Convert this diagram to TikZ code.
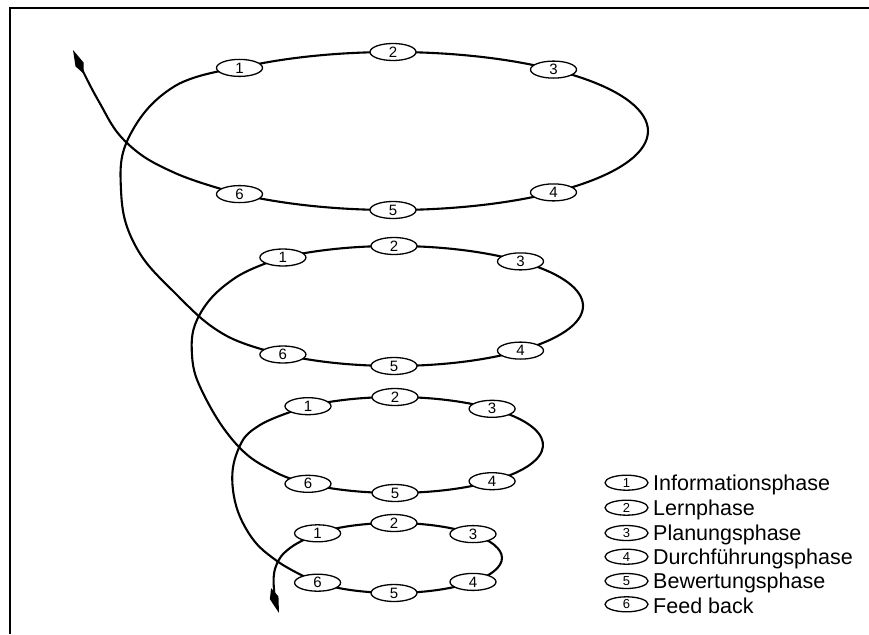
\documentclass[tikz,border=0pt]{standalone}
\usepackage{fontspec}
\setmainfont{Liberation Sans}
\usetikzlibrary{shapes.geometric,arrows.meta,backgrounds}
\begin{document}
\begin{tikzpicture}[x=1pt,y=-1pt,
  phase/.style={ellipse, draw, line width=1.3pt, fill=white, minimum width=46pt, minimum height=17pt, inner sep=0pt, font=\fontsize{15}{15}\selectfont},
  legph/.style={phase, minimum width=43pt, minimum height=15pt, font=\fontsize{13}{13}\selectfont},
  legtext/.style={anchor=base west, inner sep=0pt, font=\fontsize{21.5}{24}\selectfont},
  spiral/.style={line width=2.1pt, line cap=round},
  tipend/.style={-{Kite[length=26pt,width=9pt,inset=10pt]}}
]
\useasboundingbox (0,0) rectangle (869,634);
\draw[line width=2.5pt] (10,634) -- (10,8) -- (869,8);

% ring 1
\node[phase] (r1n1) at (239.5,67.9) {1};
\node[phase] (r1n2) at (393,52) {2};
\node[phase] (r1n3) at (553.5,69.6) {3};
\node[phase] (r1n4) at (553.5,192.4) {4};
\node[phase] (r1n5) at (393,210) {5};
\node[phase] (r1n6) at (239.5,194.1) {6};
% ring 2
\node[phase] (r2n1) at (282.9,257.5) {1};
\node[phase] (r2n2) at (394,246) {2};
\node[phase] (r2n3) at (520.5,261.4) {3};
\node[phase] (r2n4) at (520.5,350.6) {4};
\node[phase] (r2n5) at (394,366) {5};
\node[phase] (r2n6) at (282.9,354.5) {6};
% ring 3
\node[phase] (r3n1) at (308,406.2) {1};
\node[phase] (r3n2) at (395,397) {2};
\node[phase] (r3n3) at (492.1,408.8) {3};
\node[phase] (r3n4) at (492.1,481.2) {4};
\node[phase] (r3n5) at (395,493) {5};
\node[phase] (r3n6) at (308,483.8) {6};
% ring 4
\node[phase] (r4n1) at (317.6,533.3) {1};
\node[phase] (r4n2) at (394,523) {2};
\node[phase] (r4n3) at (473,534.1) {3};
\node[phase] (r4n4) at (473,581.9) {4};
\node[phase] (r4n5) at (394,593) {5};
\node[phase] (r4n6) at (317.6,582.7) {6};

\coordinate (topend) at (73,50);
\coordinate (botend) at (279,613);

\begin{scope}[on background layer]
  \draw[spiral,tipend] plot[smooth, tension=0.7] coordinates {(r1n6.center) (175,173) (127,143) (98,100) (topend)};
  \draw[spiral] (r1n6.center) arc[start angle=127, end angle=-127, x radius=255, y radius=79];
  \draw[spiral] plot[smooth, tension=0.7] coordinates {(r1n1.center) (175,86) (130,135) (121,190) (135,245) (175,293) (225,335) (r2n6.center)};
  \draw[spiral] (r2n6.center) arc[start angle=126, end angle=-126, x radius=189, y radius=60];
  \draw[spiral] plot[smooth, tension=0.7] coordinates {(r2n1.center) (235,278) (200,314) (192,355) (205,397) (238,446) (275,472) (r3n6.center)};
  \draw[spiral] (r3n6.center) arc[start angle=126, end angle=-126, x radius=148, y radius=48];
  \draw[spiral] plot[smooth, tension=0.7] coordinates {(r3n1.center) (260,425) (238,450) (233,490) (248,532) (277,561) (r4n6.center)};
  \draw[spiral] (r4n6.center) arc[start angle=135, end angle=-135, x radius=108, y radius=35];
  \draw[spiral,tipend] plot[smooth, tension=0.7] coordinates {(r4n1.center) (290,548) (276,566) (274,590) (botend)};
\end{scope}

% legend
\node[legph] (l1) at (626.5,482.7) {1};
\node[legph] (l2) at (626.5,507.7) {2};
\node[legph] (l3) at (626.5,533) {3};
\node[legph] (l4) at (626.5,556.7) {4};
\node[legph] (l5) at (626.5,581) {5};
\node[legph] (l6) at (626.5,604.3) {6};
\node[legtext] (t1) at (653,490) {Informationsphase};
\node[legtext] (t2) at (653,515) {Lernphase};
\node[legtext] (t3) at (653,540) {Planungsphase};
\node[legtext] (t4) at (653,564) {Durchführungsphase};
\node[legtext] (t5) at (653,588) {Bewertungsphase};
\node[legtext] (t6) at (653,613) {Feed back};
\end{tikzpicture}
\end{document}
